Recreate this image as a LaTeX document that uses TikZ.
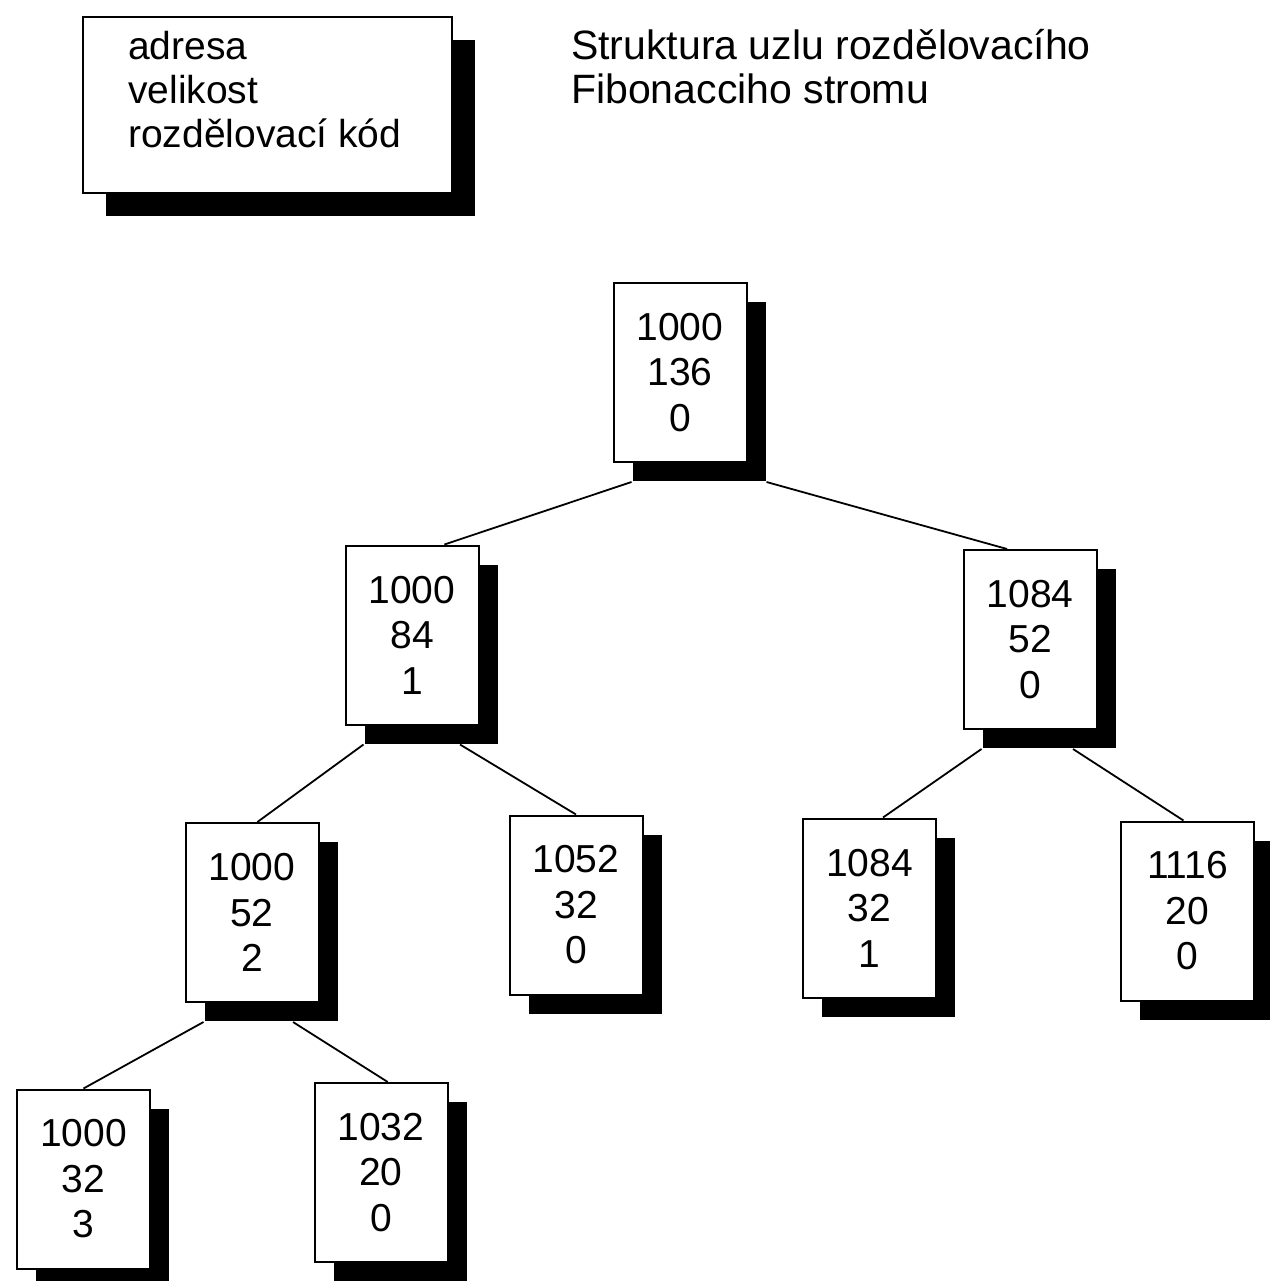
\documentclass[tikz,border=0pt]{standalone}
\usepackage{fontspec}
\setmainfont{Liberation Sans}
\usetikzlibrary{shadows,calc}

\begin{document}
\begin{tikzpicture}[x=1pt,y=1pt,
  every node/.style={font=\fontsize{39}{45.5}\selectfont},
  heavyshadow/.style={drop shadow={shadow xshift=#1, shadow yshift=-#1, fill=black, opacity=1}},
  treebox/.style={draw=black, line width=2pt, fill=white,
    minimum width=133pt, minimum height=179pt, inner sep=0pt, align=center,
    heavyshadow=19pt},
  link/.style={line width=1.8pt},
  plaintext/.style={anchor=base west, inner sep=0pt}]

\useasboundingbox[fill=white] (0,0) rectangle (1269,-1281);

% legend describing the fields of a node
\node[draw=black, line width=2pt, fill=white, minimum width=369pt,
      minimum height=176pt, inner sep=0pt, heavyshadow=23pt] (legend) at (267.5,-105) {};
\node[plaintext] (fa) at (128,-60)  {adresa};
\node[plaintext] (fv) at (128,-104) {velikost};
\node[plaintext] (fk) at (128,-148) {rozdělovací kód};

\node[plaintext, font=\fontsize{41}{44}\selectfont] (t1) at (571,-60)  {Struktura uzlu rozdělovacího};
\node[plaintext, font=\fontsize{41}{44}\selectfont] (t2) at (571,-104) {Fibonacciho stromu};

% tree nodes: address, size, split code
\node[treebox] (root) at (680,-372.5)   {1000\\136\\0};
\node[treebox] (l)    at (412,-635)     {1000\\84\\1};
\node[treebox] (r)    at (1030,-639.5)  {1084\\52\\0};
\node[treebox] (ll)   at (252,-912.5)   {1000\\52\\2};
\node[treebox] (lr)   at (576,-905)     {1052\\32\\0};
\node[treebox] (rl)   at (869.5,-908)   {1084\\32\\1};
\node[treebox] (rr)   at (1187.5,-911)  {1116\\20\\0};
\node[treebox] (lll)  at (83.5,-1179)   {1000\\32\\3};
\node[treebox] (llr)  at (381,-1172.5)  {1032\\20\\0};

% connectors leave from the bottom edge of the parent's shadow
\draw[link] ($(root.south west)+(19,-19)$) -- ($(l.north west)!0.74!(l.north east)$);
\draw[link] ($(root.south east)+(19,-19)$) -- ($(r.north west)!0.33!(r.north east)$);
\draw[link] ($(l.south west)+(19,-19)$)    -- ($(ll.north west)!0.54!(ll.north east)$);
\draw[link] ($(l.south)+(48,-19)$)         -- (lr.north);
\draw[link] ($(r.south west)+(19,-19)$)    -- ($(rl.north west)!0.6!(rl.north east)$);
\draw[link] ($(r.south)+(43,-19)$)         -- ($(rr.north west)!0.47!(rr.north east)$);
\draw[link] ($(ll.south west)+(19,-19)$)   -- (lll.north);
\draw[link] ($(ll.south)+(41,-19)$)        -- ($(llr.north west)!0.55!(llr.north east)$);

\end{tikzpicture}
\end{document}
